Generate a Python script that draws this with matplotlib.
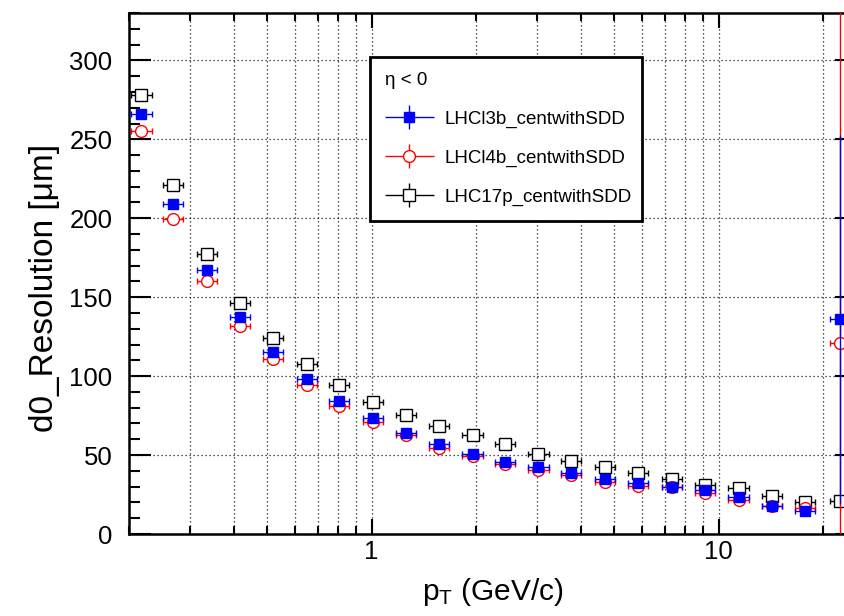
import matplotlib
matplotlib.use("Agg")
import matplotlib.pyplot as plt
import matplotlib.lines as mlines
import numpy as np
from matplotlib.ticker import LogLocator, MultipleLocator, FixedLocator, NullFormatter, FuncFormatter
from matplotlib.legend_handler import HandlerErrorbar

plt.rcParams["font.family"] = ["Liberation Sans", "DejaVu Sans"]
plt.rcParams["mathtext.default"] = "regular"

# pT bin centres (GeV/c)
pt = [0.217, 0.268, 0.336, 0.417, 0.52, 0.65, 0.806, 1.007, 1.256, 1.566,
      1.954, 2.42, 3.02, 3.75, 4.70, 5.86, 7.32, 9.13, 11.4, 14.2, 17.7, 22.3]

# d0 resolution (um)
res_13b = [265.8, 209.3, 167.0, 137.5, 115.0, 98.1, 84.4, 73.2, 64.1, 56.8,
           50.6, 45.8, 42.2, 38.4, 34.6, 32.1, 29.9, 27.8, 23.6, 17.7, 14.7, 135.9]
res_14b = [255.0, 199.8, 160.0, 131.6, 110.6, 94.3, 81.0, 71.1, 62.7, 54.6,
           49.4, 44.3, 40.5, 37.3, 33.1, 30.4, 29.5, 26.1, 21.5, 17.9, 16.3, 121.0]
res_17p = [277.8, 220.9, 177.6, 146.4, 124.3, 107.4, 94.3, 83.7, 75.3, 68.4,
           62.7, 57.0, 50.6, 46.2, 42.6, 38.4, 34.8, 31.0, 28.9, 24.2, 20.4, 20.9]

# vertical errors (hidden under the markers except for the last bin)
err_13b = [0.0] * 21 + [117.0]
err_14b = [0.0] * 21 + [500.0]
err_17p = [0.0] * 22

labels = ["LHCl3b_centwithSDD", "LHCl4b_centwithSDD", "LHC17p_centwithSDD"]
legend_title = "η < 0"


class NoCapErrorbar(HandlerErrorbar):
    # ROOT style legend entry: plain cross, no end caps
    def create_artists(self, *args, **kwargs):
        arts = super().create_artists(*args, **kwargs)
        for a in arts:
            if isinstance(a, mlines.Line2D) and a.get_marker() in ("|", "_"):
                a.set_visible(False)
        return arts


W, H = 844, 616
fig = plt.figure(figsize=(W / 100, H / 100), dpi=100)
# axes frame runs a little past the right edge of the picture
x0, x1, ytop, ybot = 129, 857, 13, 534
ax = fig.add_axes([x0 / W, (H - ybot) / H, (x1 - x0) / W, (ybot - ytop) / H])

pt_arr = np.array(pt)
xerr = [pt_arr - pt_arr / 1.07, pt_arr * 1.07 - pt_arr]

# (values, errors, colour, marker, face, size, zorder)
series = [
    (res_13b, err_13b, "blue", "s", "blue", 7, 5),
    (res_14b, err_14b, "red", "o", "white", 8.5, 4),
    (res_17p, err_17p, "black", "s", "white", 8.5, 3),
]
handles = []
for (vals, err, col, mk, fc, ms, z), lab in zip(series, labels):
    h = ax.errorbar(pt, vals, xerr=xerr, yerr=err, fmt=mk, color=col, ecolor=col,
                    mfc=fc, mec=col, ms=ms, mew=1.0, elinewidth=1.0, capsize=2,
                    capthick=1.0, label=lab, zorder=z)
    for cap in h[1]:
        if cap.get_marker() == "_":
            cap.set_visible(False)
    handles.append(h)

ax.set_xscale("log")
ax.set_xlim(0.2, 25)
ax.set_ylim(0, 330)

ax.xaxis.set_major_locator(FixedLocator([1, 10]))
ax.xaxis.set_major_formatter(FuncFormatter(lambda v, p: f"{v:g}"))
ax.xaxis.set_minor_locator(LogLocator(base=10, subs=np.arange(2, 10)))
ax.xaxis.set_minor_formatter(NullFormatter())
ax.yaxis.set_major_locator(MultipleLocator(50))
ax.yaxis.set_minor_locator(MultipleLocator(10))

ax.grid(True, which="major", axis="both", color="0.1", lw=0.9, ls=(0, (1, 2.2)), zorder=0)
ax.grid(True, which="minor", axis="x", color="0.1", lw=0.9, ls=(0, (1, 2.2)), zorder=0)
ax.set_axisbelow(True)

for s in ax.spines.values():
    s.set_linewidth(1.8)
ax.tick_params(which="both", direction="in", top=True, right=True, width=1.5, labelsize=18.5)
ax.tick_params(axis="y", which="major", length=16, pad=12)
ax.tick_params(axis="y", which="minor", length=8)
ax.tick_params(axis="x", which="major", length=11, pad=4)
ax.tick_params(axis="x", which="minor", length=5.5)

ax.set_xlabel("p$_{T}$ (GeV/c)", fontsize=21.5, labelpad=9)
ax.set_ylabel("d0_Resolution [μm]", fontsize=24)
ax.yaxis.set_label_coords((60 - x0) / (x1 - x0), (ybot - 288) / (ybot - ytop))

leg = ax.legend(handles=handles, labels=labels, title=legend_title,
                loc="upper left", bbox_to_anchor=(370 / W, 1 - 57 / H - 0.01, 272 / W, 0.01),
                bbox_transform=fig.transFigure, mode="expand", borderaxespad=0,
                fontsize=13.5, title_fontsize=13.5, alignment="left",
                handlelength=2.6, handletextpad=0.6, labelspacing=1.15,
                borderpad=0.8, fancybox=False, framealpha=1, edgecolor="black",
                handler_map={type(handles[0]): NoCapErrorbar(xerr_size=1.3, yerr_size=0.65)})
leg.get_frame().set_linewidth(2)
leg.set_zorder(6)

fig.savefig("out.png", dpi=100)
